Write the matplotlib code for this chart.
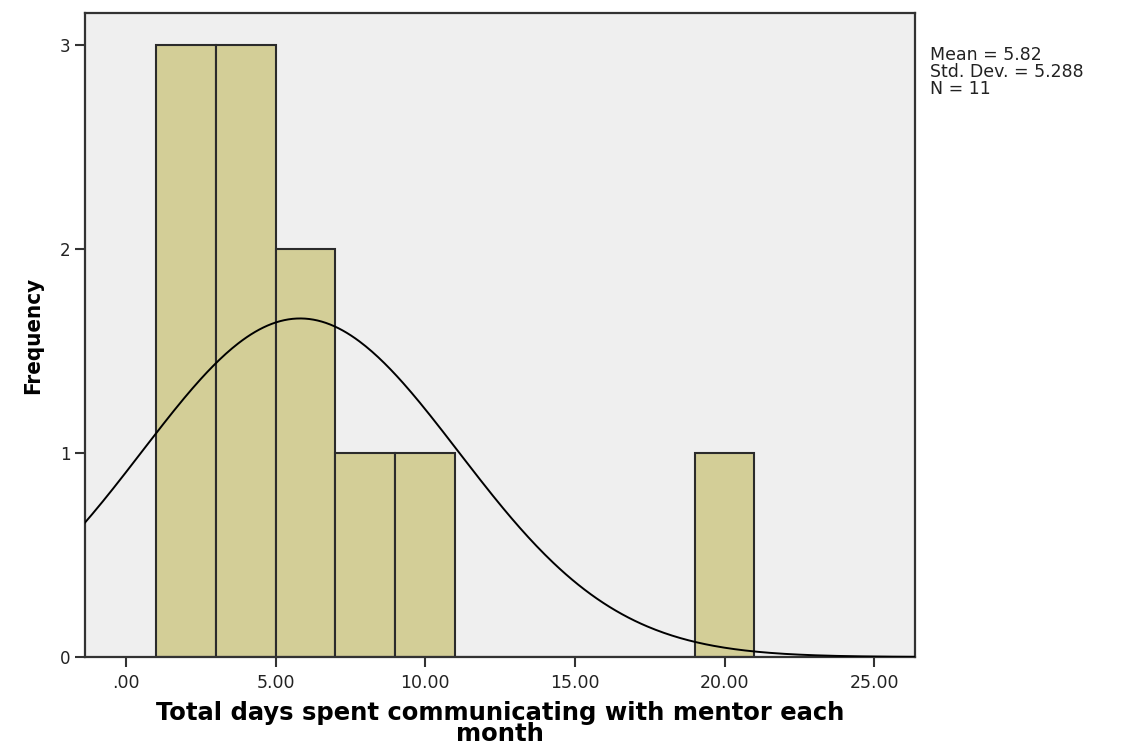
import numpy as np
import matplotlib
matplotlib.use("Agg")
import matplotlib.pyplot as plt

# histogram bins (left edges, width 2) and counts
bin_edges = [1, 3, 5, 7, 9, 11, 13, 15, 17, 19, 21]
counts = [3, 3, 2, 1, 1, 0, 0, 0, 0, 1]

mean = 5.82
std_dev = 5.288
n = 11

x_ticks = [0, 5, 10, 15, 20, 25]
x_tick_labels = [".00", "5.00", "10.00", "15.00", "20.00", "25.00"]
y_ticks = [0, 1, 2, 3]

fig = plt.figure(figsize=(11.25, 7.47), dpi=100)
ax = fig.add_axes([0.0755, 0.1205, 0.7375, 0.862])
ax.set_facecolor("#efefef")

widths = np.diff(bin_edges)
ax.bar(bin_edges[:-1], counts, width=widths, align="edge",
       color="#d3ce97", edgecolor="#2b2b2b", linewidth=1.5, zorder=2)

# normal curve scaled to counts
bw = widths[0]
xs = np.linspace(-1.4, 26.4, 400)
ys = n * bw / (std_dev * np.sqrt(2 * np.pi)) * np.exp(-0.5 * ((xs - mean) / std_dev) ** 2)
ax.plot(xs, ys, color="black", lw=1.4, zorder=3)

ax.set_xlim(-1.37, 26.35)
ax.set_ylim(0, 3.157)
ax.set_xticks(x_ticks)
ax.set_xticklabels(x_tick_labels, fontsize=12.5, color="#222222")
ax.set_yticks(y_ticks)
ax.set_yticklabels([str(v) for v in y_ticks], fontsize=12, color="#222222")
ax.tick_params(axis="both", direction="out", length=7, width=1.5, color="#333333")
ax.tick_params(axis="x", pad=5)
for s in ax.spines.values():
    s.set_linewidth(1.6)
    s.set_color("#333333")

ax.set_xlabel("Total days spent communicating with mentor each\nmonth",
              fontsize=17.5, fontweight="bold", linespacing=0.8, labelpad=7)
ax.set_ylabel("Frequency", fontsize=16, fontweight="bold",
              fontstretch="condensed", labelpad=12)

fig.text(0.827, 0.938, f"Mean = {mean}\nStd. Dev. = {std_dev}\nN = {n}",
         fontsize=12.5, va="top", ha="left", linespacing=0.9, color="#222222")

fig.savefig("out.png", dpi=100)
